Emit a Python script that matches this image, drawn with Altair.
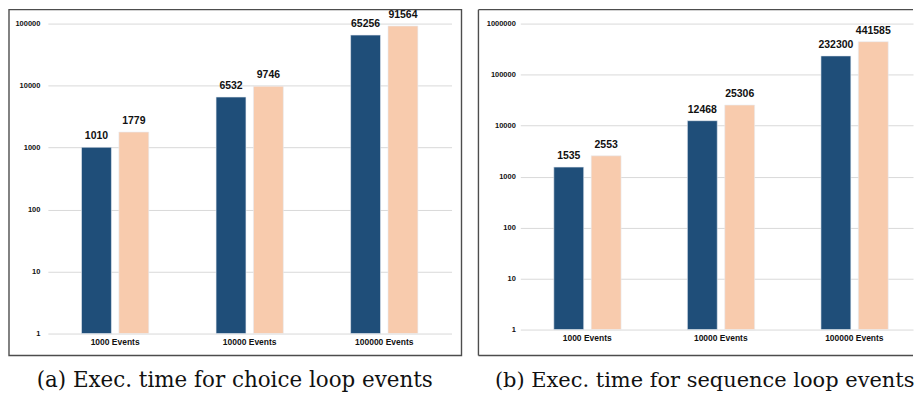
import altair as alt
import pandas as pd

categories = ["1000 Events", "10000 Events", "100000 Events"]
series_names = ["Run A", "Run B"]
choice_a = [1010, 6532, 65256]
choice_b = [1779, 9746, 91564]
sequence_a = [1535, 12468, 232300]
sequence_b = [2553, 25306, 441585]
left_ticks = [1, 10, 100, 1000, 10000, 100000]
right_ticks = [1, 10, 100, 1000, 10000, 100000, 1000000]
captions = ["(a) Exec. time for choice loop events", "(b) Exec. time for sequence loop events"]
colors = ["#1f4e79", "#f8cbad"]

LABEL_FONT = "Liberation Sans"


def make_df(a, b):
    rows = []
    for c, va, vb in zip(categories, a, b):
        rows.append({"category": c, "series": series_names[0], "value": va})
        rows.append({"category": c, "series": series_names[1], "value": vb})
    return pd.DataFrame(rows)


def panel(df, ticks, W, H, caption, frame, label_pad, dx, xscale, font_size, full_frame=True):
    x = alt.X("category:N", sort=categories,
              scale=alt.Scale(**xscale),
              axis=alt.Axis(title=None, labelAngle=0, domain=False, ticks=False,
                            labelPadding=4, labelFont=LABEL_FONT, labelFontSize=8.5,
                            labelFontWeight="bold", labelColor="#111111", grid=False))
    xo = alt.XOffset("series:N", sort=series_names,
                     scale=alt.Scale(paddingInner=0.2, paddingOuter=0))
    y = alt.Y("value:Q",
              scale=alt.Scale(type="log", domain=[ticks[0], ticks[-1]], nice=False),
              axis=alt.Axis(values=ticks, format="d", title=None, domain=False, ticks=False,
                            grid=True, gridColor="#d9d9d9", gridWidth=1,
                            labelFont=LABEL_FONT, labelFontSize=7.5, labelFontWeight="bold",
                            labelColor="#111111", labelPadding=label_pad))
    base = alt.Chart(df)
    bars = base.mark_bar(stroke="#e8edf3", strokeWidth=0.6).encode(
        x=x, xOffset=xo, y=y, y2=alt.datum(1),
        color=alt.Color("series:N", scale=alt.Scale(domain=series_names, range=colors), legend=None),
    )
    text = base.mark_text(baseline="alphabetic", dy=-8, font=LABEL_FONT, fontSize=10.5,
                          fontWeight="bold", color="#111111").encode(
        x=x, xOffset=xo, y=y, text=alt.Text("value:Q", format="d"))
    fl, fr, ft, fb = frame
    fdf = pd.DataFrame({"f": [0]})
    if full_frame:
        fr_layers = [alt.Chart(fdf).mark_rect(fill=None, stroke="#4d4d4d", strokeWidth=1.4).encode(
            x=alt.value(fl), x2=alt.value(W + fr), y=alt.value(ft), y2=alt.value(H + fb))]
    else:
        style = dict(color="#4d4d4d", strokeWidth=1.4)
        fr_layers = [
            alt.Chart(fdf).mark_rule(**style).encode(x=alt.value(fl), x2=alt.value(W + fr), y=alt.value(ft)),
            alt.Chart(fdf).mark_rule(**style).encode(x=alt.value(fl), x2=alt.value(W + fr), y=alt.value(H + fb)),
            alt.Chart(fdf).mark_rule(**style).encode(x=alt.value(fl), y=alt.value(ft), y2=alt.value(H + fb)),
        ]
    return alt.layer(bars, text, *fr_layers).properties(
        width=W, height=H,
        title=alt.TitleParams(caption, orient="bottom", font="DejaVu Serif", fontSize=font_size,
                              fontWeight="normal", color="#111111", anchor="middle",
                              dx=dx, offset=14),
    )


left = panel(make_df(choice_a, choice_b), left_ticks, 405, 311, captions[0], (-39, 10, -14, 22), 8, -15,
             dict(paddingInner=0.5, paddingOuter=0.25), 21.5)
right = panel(make_df(sequence_a, sequence_b), right_ticks, 394, 307, captions[1], (-42, 0, -14, 26), 5, -12,
              dict(paddingInner=0.5, paddingOuter=0.22, align=0.57), 21, full_frame=False)

chart = alt.hconcat(left, right, spacing=15).properties(
    padding={"left": 0, "top": 0, "right": 0, "bottom": 0}
).configure_view(stroke=None)

chart.save("out.html", embed_options={"renderer": "svg", "actions": False})
